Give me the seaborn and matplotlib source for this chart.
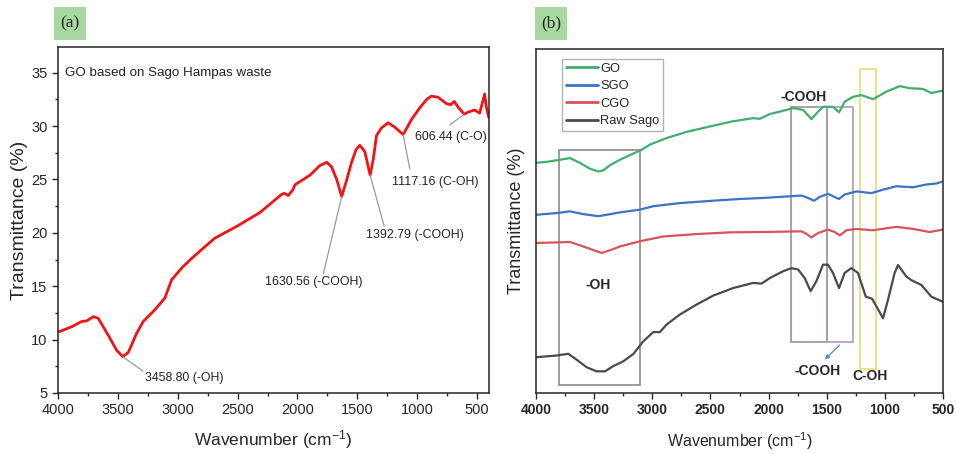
import numpy as np
import pandas as pd
import matplotlib
matplotlib.use("Agg")
import matplotlib.pyplot as plt
from matplotlib.patches import Rectangle
from matplotlib.ticker import MultipleLocator
import seaborn as sns

# ---------------- Panel (a): GO from sago hampas waste ----------------
go_wn = [4000, 3886, 3802, 3760, 3705, 3664, 3580, 3510, 3458.80, 3413, 3343,
         3288, 3190, 3107, 3051, 2967, 2884, 2773, 2690, 2508, 2313, 2132,
         2110, 2076, 2040, 2020, 1895, 1813, 1755, 1716, 1672, 1630.56, 1590,
         1548, 1510, 1479, 1437, 1392.79, 1365, 1340, 1300, 1243, 1187,
         1117.16, 1048, 979, 920, 881, 826, 756, 720, 690, 660, 606.44, 575,
         520, 478, 436, 422, 402]
go_t = [10.7, 11.2, 11.7, 11.75, 12.15, 12.0, 10.4, 9.0, 8.4, 8.8, 10.6,
        11.7, 12.8, 13.9, 15.6, 16.7, 17.6, 18.7, 19.5, 20.6, 21.9, 23.6,
        23.7, 23.5, 24.0, 24.5, 25.4, 26.3, 26.6, 26.2, 25.0, 23.4, 24.9,
        26.6, 27.8, 28.2, 27.6, 25.4, 27.0, 29.1, 29.8, 30.3, 29.9,
        29.2, 30.6, 31.7, 32.5, 32.8, 32.7, 32.1, 32.0, 32.3, 31.8, 31.1, 31.3,
        31.5, 31.2, 33.0, 31.8, 30.8]

peak_labels = ["3458.80 (-OH)", "1630.56 (-COOH)", "1392.79 (-COOH)",
               "1117.16 (C-OH)", "606.44 (C-O)"]
peak_wn = [3458.80, 1630.56, 1392.79, 1117.16, 606.44]

# ---------------- Panel (b): comparison of samples ----------------
b_go_wn = [4000, 3908, 3794, 3708, 3622, 3536, 3464, 3422, 3364, 3278, 3164,
           3092, 3021, 2877, 2706, 2476, 2305, 2133, 2076, 1990, 1903, 1789,
           1703, 1631, 1574, 1531, 1446, 1394, 1345, 1274, 1202, 1101, 987,
           872, 786, 673, 601, 500]
b_go_t = [66.9, 67.2, 67.8, 68.3, 66.9, 65.2, 64.4, 64.7, 66.2, 67.8, 69.6,
          70.7, 72.2, 74.1, 75.9, 77.7, 79.0, 79.9, 79.7, 81.1, 81.8, 82.8,
          82.3, 79.6, 81.8, 83.2, 83.2, 81.6, 84.7, 86.1, 86.6, 85.4, 87.6,
          89.2, 88.6, 88.4, 87.2, 87.9]

b_sgo_wn = [4000, 3822, 3708, 3593, 3464, 3393, 3278, 3107, 2992, 2763, 2477,
            2247, 2047, 1904, 1718, 1660, 1609, 1560, 1489, 1446, 1394, 1346,
            1245, 1116, 1016, 901, 758, 644, 558, 500]
b_sgo_t = [51.8, 52.3, 52.8, 52.0, 51.4, 51.8, 52.5, 53.3, 54.3, 55.2, 55.9,
           56.4, 56.7, 57.0, 57.4, 56.7, 55.9, 57.0, 57.9, 57.2, 56.4, 57.7,
           58.6, 58.1, 59.1, 60.1, 59.8, 60.6, 60.9, 61.5]

b_cgo_wn = [4000, 3708, 3593, 3436, 3364, 3278, 3107, 2906, 2620, 2333, 2047,
            1718, 1675, 1632, 1575, 1489, 1431, 1388, 1331, 1245, 1102, 901,
            758, 615, 500]
b_cgo_t = [43.6, 43.9, 42.6, 40.7, 41.5, 42.6, 44.1, 45.5, 46.2, 46.7, 46.8,
           47.0, 46.3, 45.2, 46.5, 47.5, 46.8, 45.8, 47.3, 47.7, 47.3, 48.3,
           47.7, 46.8, 47.5]

b_raw_wn = [4000, 3822, 3722, 3651, 3565, 3479, 3407, 3336, 3250, 3164, 3078,
            2992, 2935, 2877, 2763, 2620, 2477, 2305, 2133, 2061, 1990, 1875,
            1804, 1746, 1689, 1638, 1589, 1532, 1489, 1446, 1394, 1346, 1288,
            1231, 1164, 1110, 1073, 1016, 973, 916, 887, 816, 772, 686, 600,
            500]
b_raw_t = [10.4, 10.9, 11.4, 9.7, 7.5, 6.3, 6.3, 7.8, 9.2, 11.3, 15.0,
           17.7, 17.7, 19.9, 22.8, 25.7, 28.3, 30.5, 32.0, 31.8, 33.4, 35.4,
           36.3, 35.9, 33.4, 29.6, 32.5, 37.3, 37.3, 34.9, 30.5, 34.9, 36.3,
           34.9, 28.0, 27.4, 25.2, 21.7, 27.1, 34.9, 37.2, 33.9, 32.8, 31.4, 28.0,
           26.5]

sample_names = ["GO", "SGO", "CGO", "Raw Sago"]
sample_colors = ["#3fae6f", "#3b74c4", "#d9545a", "#4a4a4a"]

# ---------------- styling ----------------
sns.set_style("ticks")
plt.rcParams["font.family"] = ["Liberation Sans", "DejaVu Sans"]
plt.rcParams["mathtext.default"] = "regular"
plt.rcParams["xtick.direction"] = "out"
plt.rcParams["ytick.direction"] = "out"

fig = plt.figure(figsize=(9.57, 4.54), dpi=100)
ax_a = fig.add_axes([58 / 957, 1 - 393 / 454, (489 - 58) / 957, (393 - 47) / 454])
ax_b = fig.add_axes([536 / 957, 1 - 393 / 454, (943 - 536) / 957, (393 - 49) / 454])

# ---- panel (a) ----
df_a = pd.DataFrame({"wn": go_wn, "t": go_t})
sns.lineplot(data=df_a, x="wn", y="t", ax=ax_a, color="#f01414", lw=2.0,
             sort=False, estimator=None)
ax_a.set_xlim(4000, 400)
ax_a.set_ylim(5, 37.4)
ax_a.xaxis.set_major_locator(MultipleLocator(500))
ax_a.xaxis.set_minor_locator(MultipleLocator(250))
ax_a.yaxis.set_major_locator(MultipleLocator(5))
ax_a.yaxis.set_minor_locator(MultipleLocator(2.5))
ax_a.tick_params(axis="both", which="major", labelsize=10.5, length=4, width=1)
ax_a.tick_params(axis="both", which="minor", length=2.5, width=1)
ax_a.set_xlabel("Wavenumber (cm$^{-1}$)", fontsize=12.5, labelpad=8)
ax_a.set_ylabel("Transmittance (%)", fontsize=14, labelpad=2)
for s in ax_a.spines.values():
    s.set_linewidth(1.1)
ax_a.text(4000 - 60, 35, "GO based on Sago Hampas waste", fontsize=9.6,
          va="center", ha="left", color="#222222")

# leader-line annotations: (text position, line end)
ann_text = [(3275, 6.45), (1861, 15.35), (1016, 19.8), (849, 24.8), (721, 29.0)]
ann_end = [(3290, 7.05), (1783, 16.2), (1275, 20.6), (1062, 26.0), (728, 30.1)]
ann_ha = ["left", "center", "center", "center", "center"]
peak_t = [np.interp(w, go_wn[::-1], go_t[::-1]) for w in peak_wn]
for lab, w, t, (tx, ty), (ex, ey), ha in zip(peak_labels, peak_wn, peak_t,
                                             ann_text, ann_end, ann_ha):
    ax_a.plot([w, ex], [t, ey], color="#9a9a9a", lw=0.9)
    ax_a.text(tx, ty, lab, fontsize=8.9, ha=ha, va="center", color="#222222")

# ---- panel (b) ----
rows = []
for name, wn, tv in zip(sample_names,
                        [b_go_wn, b_sgo_wn, b_cgo_wn, b_raw_wn],
                        [b_go_t, b_sgo_t, b_cgo_t, b_raw_t]):
    rows.append(pd.DataFrame({"wn": wn, "t": tv, "sample": name}))
df_b = pd.concat(rows, ignore_index=True)
sns.lineplot(data=df_b, x="wn", y="t", hue="sample", hue_order=sample_names,
             palette=sample_colors, ax=ax_b, lw=1.6, sort=False, estimator=None)
ax_b.set_xlim(4000, 500)
ax_b.set_ylim(0, 100)
ax_b.set_yticks([])
ax_b.xaxis.set_major_locator(MultipleLocator(500))
ax_b.xaxis.set_minor_locator(MultipleLocator(250))
ax_b.tick_params(axis="x", which="major", labelsize=10, length=4, width=1)
ax_b.tick_params(axis="x", which="minor", length=2.5, width=1)
for lbl in ax_b.get_xticklabels():
    lbl.set_fontweight("bold")
ax_b.set_xlabel("Wavenumber (cm$^{-1}$)", fontsize=11.5, labelpad=9)
ax_b.set_ylabel("Transmittance (%)", fontsize=13, labelpad=8)
for s in ax_b.spines.values():
    s.set_linewidth(1.1)

leg = ax_b.legend(loc="upper left", bbox_to_anchor=(0.064, 0.971),
                  borderaxespad=0, fontsize=9.3, frameon=True, fancybox=False,
                  handlelength=2.5, handletextpad=0.15, borderpad=0.3,
                  labelspacing=0.42)
leg.get_frame().set_edgecolor("#a0a0a0")
leg.get_frame().set_linewidth(1.0)
for h in leg.get_lines():
    h.set_linewidth(2.0)

# highlighted regions
boxes = [((3802, 2.2), 3104 - 3802, 70.7 - 2.2, "#8c8c8c"),
         ((1804, 14.8), 1494 - 1804, 83.0 - 14.8, "#9e928b"),
         ((1494, 14.8), 1271 - 1494, 83.0 - 14.8, "#a89cc0"),
         ((1216, 7.0), 1073 - 1216, 94.2 - 7.0, "#e4de74")]
for xy, w, h, c in boxes:
    ax_b.add_patch(Rectangle(xy, w, h, fill=False, edgecolor=c, lw=1.2))

ax_b.annotate("", xy=(1532, 9.2), xytext=(1374, 14.5),
              arrowprops=dict(arrowstyle="-|>", color="#5b86c9", lw=0.9,
                              mutation_scale=6))
ax_b.text(1703, 86.0, "-COOH", fontsize=10, fontweight="bold", ha="center",
          va="center")
ax_b.text(3464, 31.5, "-OH", fontsize=10, fontweight="bold", ha="center",
          va="center")
ax_b.text(1583, 6.3, "-COOH", fontsize=10, fontweight="bold", ha="center",
          va="center")
ax_b.text(1130, 4.8, "C-OH", fontsize=10, fontweight="bold", ha="center",
          va="center")

# panel tags
for x0, tag in [(54, "(a)"), (535, "(b)")]:
    fig.patches.append(Rectangle((x0 / 957, 1 - 40 / 454), 32 / 957, 33 / 454,
                                 transform=fig.transFigure, facecolor="#a6d89f",
                                 edgecolor="none"))
    fig.text((x0 + 16) / 957, 1 - 23.5 / 454, tag, fontsize=12.5,
             family=["Liberation Serif", "DejaVu Serif"], ha="center",
             va="center")

fig.savefig("out.png", dpi=100)
